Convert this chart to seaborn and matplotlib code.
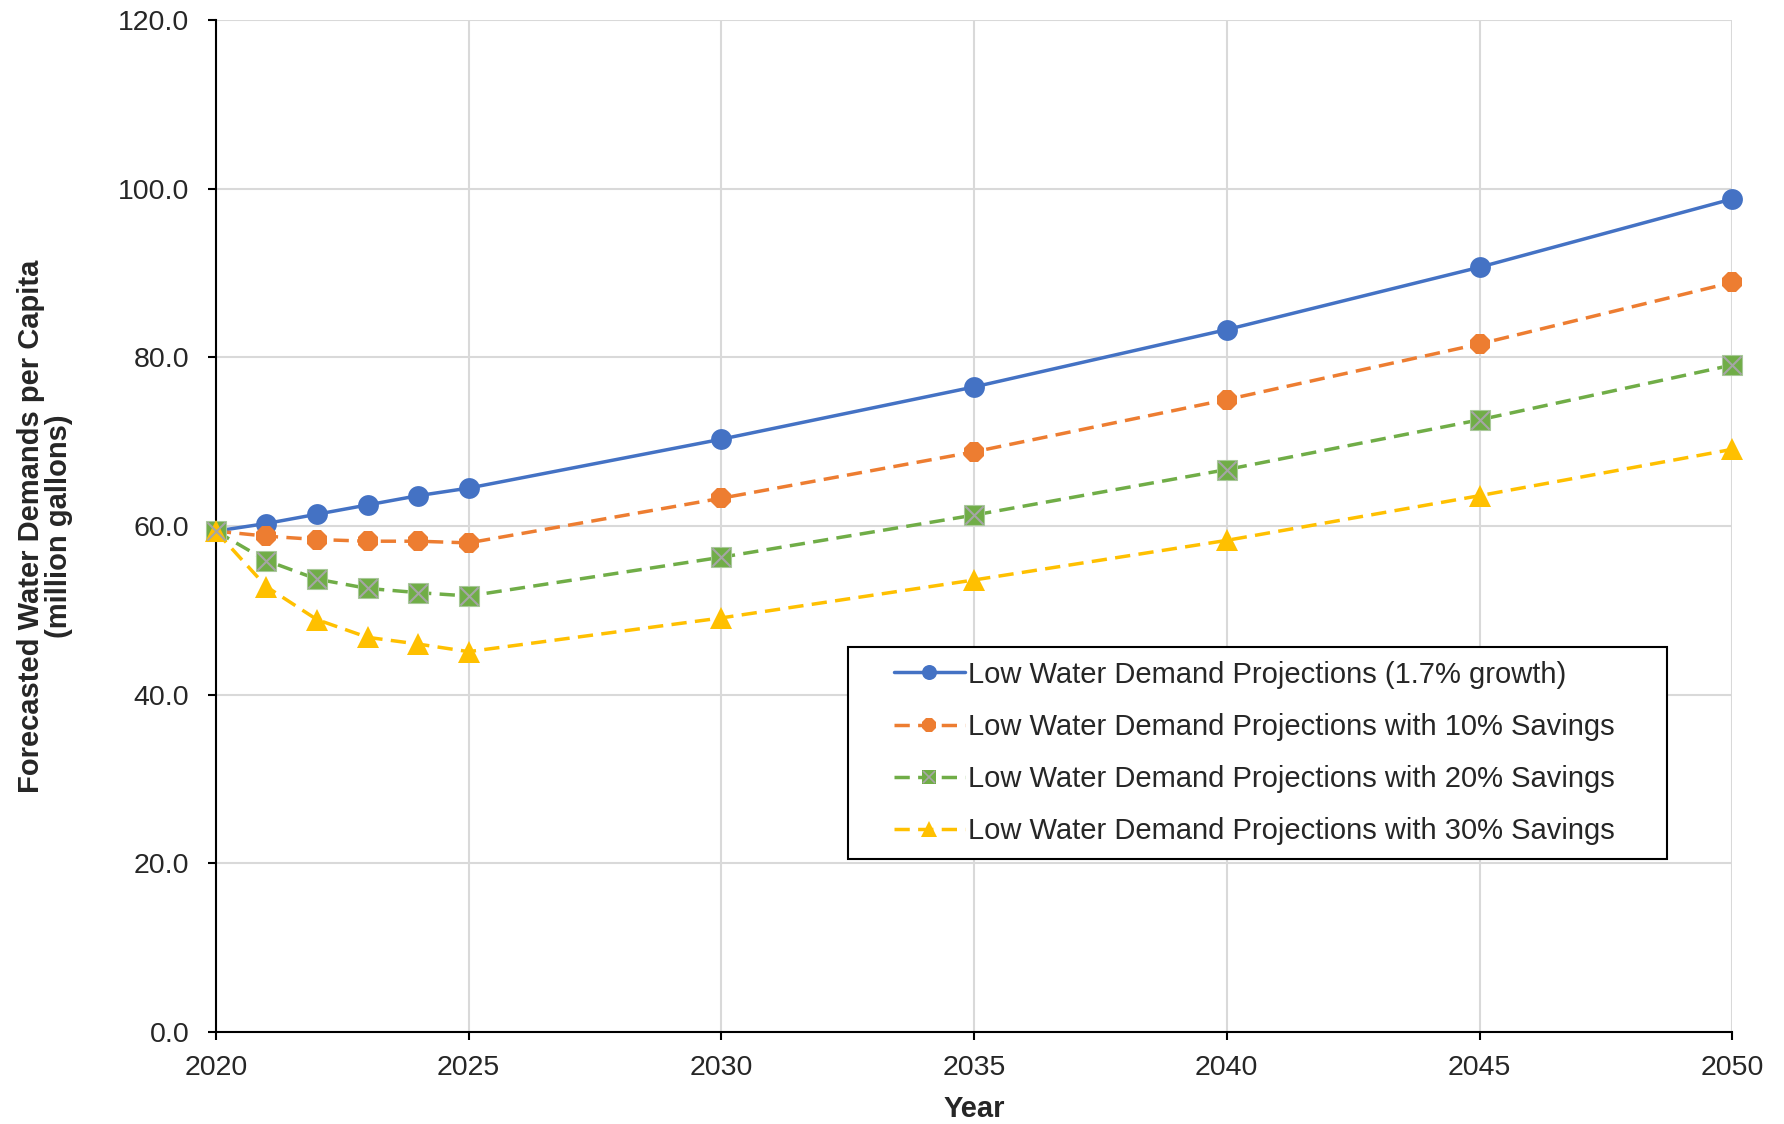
import matplotlib
matplotlib.use("Agg")
import matplotlib.pyplot as plt
from matplotlib.lines import Line2D
from matplotlib.patches import Rectangle
from matplotlib.legend_handler import HandlerTuple
from matplotlib.ticker import FormatStrFormatter
import pandas as pd
import seaborn as sns

# Data
years = [2020, 2021, 2022, 2023, 2024, 2025, 2030, 2035, 2040, 2045, 2050]
low_growth = [59.4, 60.3, 61.4, 62.5, 63.6, 64.5, 70.3, 76.5, 83.3, 90.7, 98.8]
savings_10 = [59.4, 58.8, 58.4, 58.2, 58.2, 58.0, 63.3, 68.8, 75.0, 81.6, 88.9]
savings_20 = [59.4, 55.9, 53.7, 52.6, 52.1, 51.7, 56.3, 61.3, 66.7, 72.6, 79.1]
savings_30 = [59.4, 52.8, 48.9, 46.8, 46.0, 45.1, 49.1, 53.6, 58.3, 63.6, 69.1]

labels = [
    "Low Water Demand Projections (1.7% growth)",
    "Low Water Demand Projections with 10% Savings",
    "Low Water Demand Projections with 20% Savings",
    "Low Water Demand Projections with 30% Savings",
]

sns.set_style("white")
plt.rcParams["font.family"] = ["Liberation Sans", "DejaVu Sans"]
plt.rcParams["font.size"] = 20.5

fig = plt.figure(figsize=(17.84, 11.24), dpi=100)
ax = fig.add_axes([0.121, 0.082, 0.850, 0.900])

dash = (0, (4.4, 2.4))
series = [
    (low_growth, "#4472C4", "o", "-", 15),
    (savings_10, "#ED7D31", "8", dash, 15),
    (savings_20, "#70AD47", "s", dash, 14.5),
    (savings_30, "#FFC000", "^", dash, 16),
]

handles = []
for vals, color, marker, ls, ms in series:
    df = pd.DataFrame({"Year": years, "Value": vals})
    edge = "#A9C99A" if marker == "s" else color
    sns.lineplot(data=df, x="Year", y="Value", ax=ax, color=color, linewidth=2.5,
                 linestyle=ls, marker=marker, markersize=ms, clip_on=False,
                 markeredgecolor=edge, markeredgewidth=0.8 if marker == "s" else 0,
                 legend=False, zorder=3)
    h = Line2D([], [], color=color, linewidth=2.5, linestyle=ls, marker=marker,
               markersize=ms * 0.72, markeredgewidth=0)
    if marker == "s":
        # grey cross drawn on top of the green squares
        sns.scatterplot(x=years, y=savings_20, ax=ax, marker="x", s=170, color="#A5A5A5",
                        linewidth=1.5, legend=False, zorder=4, clip_on=False)
        hx = Line2D([], [], linestyle="none", marker="x", color="#A5A5A5",
                    markersize=ms * 0.6, markeredgewidth=1.2)
        h = (h, hx)
    handles.append(h)

ax.set_xlim(2020, 2050)
ax.set_ylim(0, 120)
ax.set_xticks(range(2020, 2051, 5))
ax.set_yticks(range(0, 121, 20))
ax.yaxis.set_major_formatter(FormatStrFormatter("%.1f"))
ax.grid(True, color="#D9D9D9", linewidth=1.5)
ax.set_axisbelow(True)
for side in ["top", "right"]:
    ax.spines[side].set_visible(False)
for side in ["left", "bottom"]:
    ax.spines[side].set_color("black")
    ax.spines[side].set_linewidth(1.5)
ax.tick_params(axis="both", direction="out", length=6, width=1.5, color="black",
               labelsize=20.5, bottom=True, left=True)
ax.tick_params(axis="x", pad=11)
ax.tick_params(axis="y", pad=13)

ax.set_xlabel("Year", fontsize=21, fontweight="bold")
ax.set_ylabel("Forecasted Water Demands per Capita\n(million gallons)", fontsize=21,
              fontweight="bold", linespacing=1.0)
ax.xaxis.set_label_coords(0.5, -0.062)
ax.yaxis.set_label_coords(-0.094, 0.5)

# legend box (drawn separately so the inner padding can match)
ax.add_patch(Rectangle((0.417, 0.171), 0.540, 0.209, transform=ax.transAxes,
                       facecolor="white", edgecolor="black", linewidth=1.5, zorder=5,
                       clip_on=False))
leg = ax.legend(handles, labels, loc="upper left", bbox_to_anchor=(0.447, 0.367),
                fontsize=21, frameon=False, borderpad=0, borderaxespad=0,
                handlelength=2.45, handletextpad=0.1, labelspacing=0.83,
                handler_map={tuple: HandlerTuple(ndivide=1)})
leg.set_zorder(6)

fig.savefig("out.png", dpi=100)
